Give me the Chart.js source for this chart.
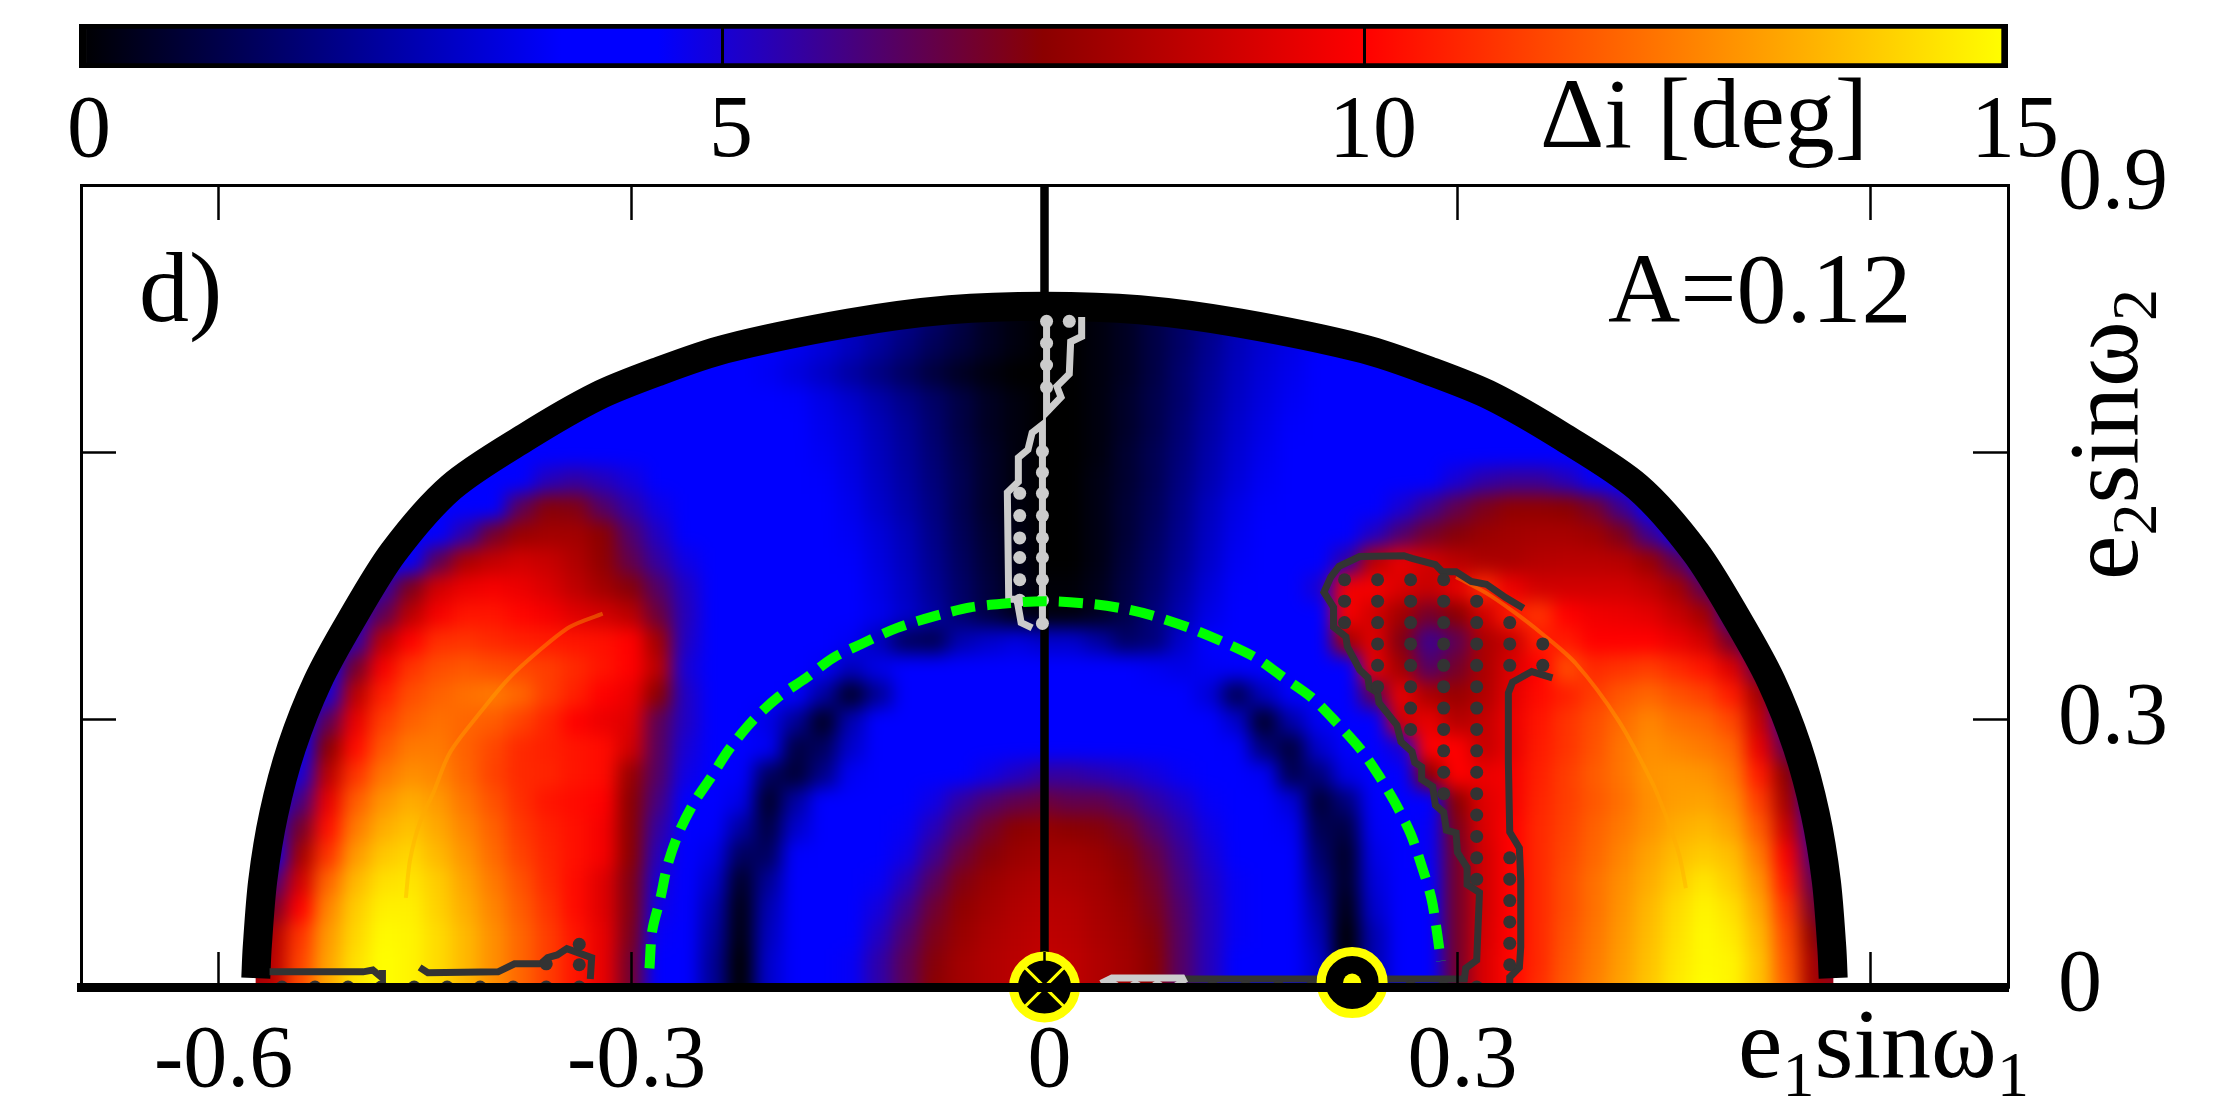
<!DOCTYPE html>
<html>
<head>
<meta charset="utf-8">
<script src="https://cdn.jsdelivr.net/npm/chart.js@4"></script>
<style>
  html, body { margin: 0; background: #fff; }
  #page { position: relative; width: 2222px; height: 1111px; overflow: hidden; }
  canvas { position: absolute; left: 0; top: 0; }
  .txt { position: absolute; font: 100px/1 "Liberation Serif", serif; color: #000; white-space: nowrap; }
  .txt sub { font-size: 0.64em; line-height: 0; vertical-align: -0.29em; }
</style>
</head>
<body>
<div id="page">
  <canvas id="barChart" width="2222" height="180"></canvas>
  <canvas id="mainChart" width="2222" height="1111"></canvas>
  <div class="txt" style="left:1540px;top:64px">Δi [deg]</div>
  <div class="txt" style="left:139px;top:238px">d)</div>
  <div class="txt" style="left:1608px;top:239px">A=0.12</div>
  <div class="txt" style="left:1738px;top:994px">e<sub>1</sub>sinω<sub>1</sub></div>
  <div class="txt" style="left:2054px;top:580px;transform-origin:0 0;transform:rotate(-90deg)">e<sub>2</sub>sinω<sub>2</sub></div>
</div>
<script>
// colour scale
const paletteValues = [0, 3.75, 4.5, 7.5, 10, 15];
const paletteColors = [[0, 0, 0], [0, 0, 255], [0, 0, 255], [139, 0, 0], [255, 0, 0], [255, 255, 0]];

const xTicks = [-0.6, -0.3, 0, 0.3, 0.6];
const xTickLabels = ["-0.6", "-0.3", "0", "0.3", ""];
const yTicks = [0, 0.3, 0.6, 0.9];
const yTickLabels = ["0", "0.3", "", "0.9"];
const barTicks = [0, 5, 10, 15];

// delta i, one row per e2 sin w2 value. heatLeft rows end at x = 0, heatRight rows start at x = 0.02, cells are 0.02 wide
const heatY = [0, 0.03, 0.06, 0.09, 0.12, 0.15, 0.18, 0.21, 0.24, 0.27, 0.30, 0.33, 0.36, 0.39, 0.42, 0.45, 0.48, 0.51, 0.54, 0.57, 0.60, 0.63, 0.66, 0.69, 0.72, 0.75];
const heatLeft = [
  [8,8.5,11.5,13.3,14.5,15,14.8,14.3,13.6,12.8,12,11.2,10.4,9.5,7,4.5,4,2.2,0,3,3.9,4.3,4.6,5.5,6.5,7.5,8,8.3,8.5,8.7],
  [7,8.5,11.3,13.2,14.4,15,14.8,14.3,13.6,12.8,12,11.2,10.4,9.5,7,4.5,4,2.2,0,3,3.9,4.3,4.6,5.5,6.5,7.4,8,8.3,8.5,8.7],
  [6,8.3,11,13,14.2,14.9,14.8,14.3,13.6,12.8,12,11.2,10.4,9.5,7.2,4.6,4,2.4,0.2,2.8,3.9,4.3,4.5,5.2,6.2,7.2,7.8,8.2,8.4,8.6],
  [7,10,12.6,14,14.7,14.7,14.1,13.4,12.6,11.8,11,10.2,9.3,7.3,4.8,4,2.6,0.3,2.6,3.9,4.2,4.4,4.9,5.8,6.9,7.6,8,8.3,8.5],
  [6,9,12,13.6,14.4,14.5,14,13.2,12.4,11.6,10.8,10.2,9.3,7.3,5,4.1,3,0.6,2.2,3.9,4.2,4.3,4.6,5.3,6.4,7.3,7.8,8.1,8.3],
  [4.5,8,11,13,13.9,14.2,13.6,12.9,12.1,11.3,10.7,10.3,9.8,7.5,5.3,4.2,3.4,1.4,1.4,3.7,4.2,4.2,4.4,4.8,5.8,6.8,7.4,7.8,8],
  [5,7,10.3,12.4,13.4,13.8,13.3,12.6,11.9,11.1,10.6,10.3,9.8,7.5,5.6,4.3,3.7,2.4,1,3,4.1,4.2,4.3,4.6,5.3,6.2,7,7.5,7.7],
  [4.5,6,9.5,11.8,12.9,13.4,13,12.3,11.6,10.9,10.4,10.2,10,7.5,6,4.4,3.9,3.4,0.6,2.4,4,4.2,4.2,4.4,4.8,5.6,6.2,6.6,6.8],
  [4,5,8.5,11,12.3,12.8,12.6,12,11.3,10.8,10.7,10.4,10.2,7.8,6.3,4.8,3.9,3.7,1.4,0.8,2,3.6,4.1,4.2,4.3,4.4,4.8,5.2,5.6],
  [4,7.5,10.2,11.7,12.4,12.4,11.9,11.4,10.8,10.6,10.4,10.2,9,6.4,5,4.1,3.8,3.6,1,1.4,3,4,4.2,4.2,4.2,4.3,4.3,4.4],
  [4,6.5,9.5,11.2,11.9,12.2,12,11.8,11.3,10.7,10,9.6,9.3,6.5,5.2,4.2,3.8,3.4,2.2,0.5,2.6,3.8,4.2,4.2,4.2,4.2,4.2,4.2],
  [4,5,8.5,10.6,11.5,11.9,12.2,12.4,12,11.2,10.6,10,9.6,7.5,5.2,4.3,3.9,3.9,3.7,2.4,0.6,2.2,3.8,4,4.1,4.1,4.1,4.1],
  [4,7,9.8,11,11.5,11.7,11.5,11.4,11.2,10.8,10.4,10,8.5,5,4.4,4,3.9,3.9,3.6,2.8,3.4,3.9,4,4.1,4,4,4],
  [4,5.5,8.5,10,10.9,11,10.8,10.6,10.5,10.4,10.3,10,8,5.2,4.4,4,3.9,3.9,3.9,3.6,2.8,1.4,1.2,2.6,3,3.3,3],
  [5,6.5,8.5,9.8,10.4,10.4,10.1,9.8,9.3,9,8.5,6.8,5.3,4.5,4,3.9,3.9,3.9,3.8,3.5,3,2.4,1.6,1,0.4,0.2],
  [4.5,5.5,7.2,9,9.6,9.8,9.6,9.2,8.6,8,7.4,6.3,5.2,4.4,4,3.9,3.9,3.9,3.8,3.4,2.9,2.2,1.5,0.9,0.4,0.1],
  [4,4.4,6.5,8.2,8.7,9,8.8,8.3,7.6,6.6,5.6,4.8,4.2,4,3.9,3.9,3.9,3.7,3.3,2.8,2.1,1.4,0.8,0.3,0],
  [4,4,4.2,5.5,7,7.8,8,8,7.5,6.2,5.2,4.5,4.1,4,3.9,3.9,3.9,3.6,3.2,2.7,2,1.3,0.7,0.3,0],
  [4,4,4,4.5,6.5,7.4,7.3,6.3,5.5,4.8,4.3,4,3.9,3.9,3.9,3.8,3.5,3,2.5,1.9,1.2,0.6,0.2,0],
  [4,4,4,4.2,5.3,5.6,5.3,4.9,4.5,4.2,4,3.9,3.9,3.8,3.7,3.4,2.9,2.4,1.8,1.2,0.6,0.2,0],
  [4,4,4,4.2,4.3,4.2,4.1,4,3.9,3.9,3.9,3.8,3.6,3.3,2.8,2.3,1.7,1.1,0.6,0.2,0],
  [4,4,4,4,4,4,4,3.9,3.9,3.9,3.8,3.5,3.2,2.7,2.2,1.6,1,0.5,0.2,0],
  [4,4,4,4,4,3.9,3.9,3.8,3.7,3.4,3,2.5,2,1.5,1,0.5,0.2,0],
  [4,4,3.9,3.9,3.8,3.6,3.3,2.9,2.4,1.9,1.4,0.9,0.5,0.2,0,0],
  [3.9,3.8,3.7,3.5,3.2,2.8,2.3,1.8,1.3,0.9,0.5,0.2,0],
  [2.5,2,1.5,1,0.5,0.2,0]
];
const heatRight = [
  [8.6,8.3,8,7.5,6.3,5.3,4.5,4.2,3.9,3,0,2.6,4,4.4,7,9.2,10.1,10.9,11.8,12.5,13.2,13.9,14.6,15,14.8,13.8,11.8,8,8],
  [8.6,8.3,8,7.5,6.3,5.3,4.5,4.2,3.9,3,0,2.6,4,4.5,7,9.2,10.1,10.8,11.7,12.4,13.1,13.8,14.5,14.9,14.8,13.8,11.6,8,6],
  [8.5,8.2,7.9,7.4,6.3,5.3,4.6,4.2,3.9,2.7,0,2.6,4,4.5,7,9.1,10,10.8,11.6,12.3,13,13.7,14.4,14.9,14.6,13.6,11.4,7.5,5],
  [8.4,8.1,7.8,7.2,6.2,5.3,4.6,4.2,3.9,2.4,0.3,3,4,4.5,7,9,10,10.8,11.5,12.2,12.9,13.6,14.3,14.8,14.4,13.3,11,7,5],
  [8.2,8,7.6,7,6,5.2,4.6,4.2,3.9,2,0.6,3.2,4,4.5,7,9,10,10.8,11.5,12.2,12.8,13.4,14,14.5,14,12.9,10.4,6.5,5],
  [8,7.8,7.4,6.7,5.8,5,4.5,4.2,3.8,1.6,0.6,3.4,4,4.6,7,9,10,10.8,11.4,12,12.6,13.2,13.7,14,13.7,12.4,9.8,6,4.5],
  [7.5,7.4,7,6.2,5.5,4.8,4.4,4.2,3.6,1.2,1,3.6,4,4.6,7.2,9.2,10,10.8,11.3,11.9,12.4,12.9,13.4,13.6,13.2,11.8,8.8,5.5,4.5],
  [6.6,6.6,6.2,5.6,5.1,4.6,4.3,4.1,3.2,0.8,1.8,3.7,4,4.5,7.5,9.3,9.8,10.7,11.2,11.7,12.2,12.8,13.1,13.2,12.8,11.2,8,5,4.5],
  [5.6,5.4,5.2,4.9,4.6,4.4,4.2,3.6,1.2,1.8,3.4,3.8,4.2,7.5,10,9.6,9.8,10.6,11.2,11.8,12.3,12.9,13,12.9,12.4,10.5,7.5,4.5,4],
  [4.4,4.4,4.3,4.2,4.2,4.1,3.7,1.8,0.9,3,3.7,3.9,5,10,10,8.8,9.5,10.5,11,11.6,12.3,12.8,12.6,12.4,12,9.5,6.5,4.5],
  [4.2,4.2,4.2,4.1,4.1,3.9,3,0.6,2.5,3.6,3.9,4.3,9,9.5,8.4,8.7,9.6,10.4,11,11.5,12.1,12.6,12.2,12,11.4,8.8,5.5,4],
  [4.1,4.1,4,4,3.9,3.2,1.2,2.8,3.7,3.9,4,6.5,9.5,8.2,7.8,8.3,9.4,10.2,10.6,11.2,11.7,12,11.6,11.3,10.5,8,5,4],
  [4,4,3.8,3.6,3.4,3.6,3.7,3.9,4,4,4.5,9.5,8,6.3,7,8.2,9.2,10,11.5,10.8,11,11.2,10.8,10.4,9.2,6.5,4],
  [3,2.4,1.5,1.8,3,3.8,3.9,3.9,4,4,8,9.3,7.3,5.8,6.5,8.2,8.8,10.5,10.5,10,10,10,9.6,9,7,5,4],
  [0.2,0.5,1.1,1.8,2.6,3.4,3.8,3.9,3.9,4.2,9.8,9,8,7,7.5,9,10.5,11,10,9.7,9.6,9.4,8.8,8,5.5,4],
  [0.1,0.4,1,1.6,2.4,3.2,3.7,3.9,3.9,5,9.7,9.8,9.2,8.8,9.5,10.8,9.6,9,9,9,9,8.7,8,6.5,4.5,4],
  [0,0.3,0.9,1.5,2.2,3,3.6,3.8,3.9,4.1,5.5,8.5,9.5,9,8.5,8.2,8.2,8.4,8.5,8.5,8.4,7.8,6.5,4.8,4],
  [0,0.3,0.8,1.4,2.1,2.9,3.5,3.8,3.9,4,4.4,5.2,6.2,7,7.4,7.8,8,8.1,8.1,7.9,7.2,5.8,4.4,4],
  [0,0.3,0.8,1.3,2,2.8,3.4,3.7,3.9,3.9,4,4.4,5,5.8,6.6,7.2,7.6,7.6,7.5,7,5.8,4.4,4],
  [0,0.3,0.7,1.2,1.9,2.6,3.2,3.6,3.8,3.9,3.9,4,4.2,4.5,5,5.5,5.7,5.7,5.3,4.6,4.1,4],
  [0,0.2,0.7,1.2,1.8,2.5,3.1,3.5,3.8,3.9,3.9,4,4,4.1,4.2,4.3,4.3,4.2,4.1,4,4],
  [0,0.2,0.6,1.1,1.7,2.4,3,3.4,3.7,3.9,3.9,4,4,4,4,4,4,4,4],
  [0,0.2,0.6,1.1,1.6,2.3,2.9,3.3,3.6,3.8,3.9,3.9,4,4,4,4,4],
  [0,0.2,0.5,1,1.6,2.2,2.8,3.2,3.5,3.8,3.9,3.9,3.9,4,4],
  [0,0.2,0.5,1,1.5,2.1,2.7,3.1,3.4,3.7,3.8,3.9],
  [0,0.2,0.5,1,1.5,2]
];

// thick black limit of the allowed region
const outerLimit = [[-0.573,0.010],[-0.572,0.044],[-0.568,0.119],[-0.560,0.194],[-0.547,0.269],[-0.528,0.343],[-0.504,0.411],[-0.473,0.488],[-0.431,0.561],[-0.377,0.617],[-0.325,0.663],[-0.282,0.690],[-0.232,0.716],[-0.142,0.745],[-0.069,0.760],[0,0.764],[0.069,0.760],[0.142,0.745],[0.232,0.716],[0.282,0.690],[0.325,0.663],[0.377,0.617],[0.431,0.561],[0.473,0.488],[0.504,0.411],[0.528,0.343],[0.547,0.269],[0.560,0.194],[0.568,0.119],[0.572,0.044],[0.573,0.010]];
// green dashed curve
const collisionLine = [[-0.287,0.021],[-0.285,0.063],[-0.279,0.100],[-0.274,0.136],[-0.266,0.172],[-0.255,0.206],[-0.242,0.236],[-0.229,0.267],[-0.212,0.299],[-0.193,0.326],[-0.173,0.347],[-0.154,0.369],[-0.133,0.385],[-0.107,0.403],[-0.078,0.417],[-0.054,0.426],[-0.031,0.430],[0,0.433],[0.033,0.430],[0.056,0.425],[0.078,0.417],[0.107,0.402],[0.133,0.385],[0.154,0.369],[0.174,0.347],[0.194,0.325],[0.212,0.297],[0.230,0.266],[0.243,0.237],[0.255,0.206],[0.266,0.172],[0.274,0.136],[0.281,0.100],[0.285,0.063],[0.288,0.029]];
const axisLine = [[0,0],[0,0.9]];

// dark grey stable-region contours
const darkContours = [
  [[0.348,0.425],[0.335,0.437],[0.321,0.452],[0.310,0.455],[0.299,0.466],[0.289,0.466],[0.284,0.474],[0.267,0.481],[0.261,0.484],[0.229,0.483],[0.214,0.472],[0.208,0.460],[0.203,0.443],[0.210,0.426],[0.210,0.404],[0.219,0.393],[0.220,0.382],[0.229,0.356],[0.235,0.347],[0.236,0.336],[0.242,0.330],[0.243,0.319],[0.256,0.294],[0.259,0.275],[0.267,0.264],[0.269,0.252],[0.274,0.247],[0.274,0.233],[0.282,0.225],[0.284,0.204],[0.290,0.196],[0.292,0.176],[0.299,0.173],[0.300,0.151],[0.307,0.134],[0.307,0.115],[0.316,0.106],[0.314,0.030],[0.306,0.021],[0.305,0.009],[0.100,0.009]],
  [[0.369,0.347],[0.354,0.354],[0.340,0.342],[0.337,0.330],[0.337,0.252],[0.338,0.174],[0.345,0.156],[0.346,0.120],[0.346,0.045],[0.345,0.022],[0.338,0.011],[0.338,0.004]],
  [[-0.563,0.017],[-0.495,0.017],[-0.488,0.019],[-0.481,0.010],[-0.481,0.019]],
  [[-0.454,0.022],[-0.448,0.016],[-0.397,0.017],[-0.385,0.026],[-0.366,0.026],[-0.361,0.033],[-0.354,0.036],[-0.347,0.043],[-0.329,0.033],[-0.330,0.009]]
];
const lightContours = [
  [[0.0015,0.747],[0.0015,0.645],[0.012,0.662],[0.009,0.674],[0.018,0.688],[0.019,0.724],[0.027,0.730],[0.027,0.752]],
  [[-0.009,0.403],[-0.017,0.409],[-0.020,0.435],[-0.026,0.435],[-0.027,0.555],[-0.019,0.567],[-0.019,0.594],[-0.012,0.603],[-0.009,0.622],[-0.0015,0.631],[-0.0015,0.403]],
  [[0.041,0.004],[0.049,0.010],[0.100,0.010],[0.102,0.004]]
];
const darkDots = [
  [0.218,0.457],[0.242,0.457],[0.266,0.457],[0.290,0.457],
  [0.218,0.433],[0.242,0.433],[0.266,0.433],[0.290,0.433],[0.314,0.433],
  [0.218,0.409],[0.242,0.409],[0.266,0.409],[0.290,0.409],[0.314,0.409],[0.338,0.409],
  [0.242,0.385],[0.266,0.385],[0.290,0.385],[0.314,0.385],[0.338,0.385],[0.362,0.385],
  [0.242,0.361],[0.266,0.361],[0.290,0.361],[0.314,0.361],[0.338,0.361],[0.362,0.361],
  [0.242,0.337],[0.266,0.337],[0.290,0.337],[0.314,0.337],
  [0.266,0.313],[0.290,0.313],[0.314,0.313],
  [0.266,0.289],[0.290,0.289],[0.314,0.289],
  [0.290,0.265],[0.314,0.265],[0.290,0.241],[0.314,0.241],[0.290,0.217],[0.314,0.217],
  [0.314,0.193],[0.314,0.169],[0.314,0.145],[0.314,0.121],
  [0.338,0.145],[0.338,0.121],[0.338,0.097],[0.338,0.073],[0.338,0.049],[0.338,0.025],
  [0.122,0],[0.146,0],[0.170,0],[0.194,0],[0.266,0],[0.290,0],[0.314,0],
  [-0.554,0],[-0.530,0],[-0.506,0],[-0.482,0],[-0.458,0],[-0.434,0],[-0.410,0],[-0.386,0],[-0.362,0],[-0.338,0],
  [-0.338,0.048],[-0.338,0.025],[-0.362,0.026]
];
const lightDots = [
  [0.0015,0.747],[0.0015,0.7225],[0.0015,0.698],[0.0015,0.673],[0.018,0.747],
  [-0.0015,0.601],[-0.0015,0.5775],[-0.0015,0.554],[-0.0015,0.529],[-0.0015,0.504],[-0.0015,0.482],[-0.0015,0.457],[-0.0015,0.434],[-0.0015,0.408],
  [-0.018,0.554],[-0.018,0.529],[-0.018,0.504],[-0.018,0.482],[-0.018,0.457],[-0.018,0.434],
  [0.050,0],[0.066,0],[0.082,0],[0.098,0]
];
// faint bright ridges inside the outer lobes
const ridgeLines = [
  [[-0.321,0.419],[-0.345,0.404],[-0.369,0.375],[-0.390,0.345],[-0.410,0.308],[-0.432,0.263],[-0.444,0.218],[-0.454,0.184],[-0.461,0.142],[-0.464,0.100]],
  [[0.299,0.460],[0.321,0.442],[0.340,0.422],[0.361,0.397],[0.386,0.363],[0.417,0.299],[0.441,0.231],[0.451,0.194],[0.461,0.149],[0.466,0.111]]
];
const markerCross = [[0, 0]];
const markerDot = [[0.2235, 0.005]];

const toXY = list => list.map(p => ({ x: p[0], y: p[1] }));

function paletteColor(v) {
  let i = 0;
  while (i < paletteValues.length - 2 && v > paletteValues[i + 1]) i++;
  const t = Math.min(1, Math.max(0, (v - paletteValues[i]) / (paletteValues[i + 1] - paletteValues[i])));
  const a = paletteColors[i], b = paletteColors[i + 1];
  return `rgb(${a[0] + (b[0] - a[0]) * t},${a[1] + (b[1] - a[1]) * t},${a[2] + (b[2] - a[2]) * t})`;
}

const heatCells = [];
heatY.forEach((y, k) => {
  const left = heatLeft[k];
  left.forEach((v, i) => heatCells.push({ x: -(left.length - 1 - i) * 0.02, y: y, v: v }));
  heatRight[k].forEach((v, i) => heatCells.push({ x: (i + 1) * 0.02, y: y, v: v }));
});

// the cells are drawn by the library as squares, this softens them and trims to the limit curve
const smoothHeat = {
  id: "smoothHeat",
  afterDatasetDraw(chart, args) {
    if (args.index !== 0) return;
    const ctx = chart.ctx, sx = chart.scales.x, sy = chart.scales.y;
    const tmp = document.createElement("canvas");
    tmp.width = chart.width;
    tmp.height = chart.height;
    tmp.getContext("2d").drawImage(chart.canvas, 0, 0);
    ctx.save();
    ctx.clearRect(0, 0, chart.width, chart.height);
    ctx.beginPath();
    outerLimit.forEach((p, i) => {
      const px = sx.getPixelForValue(p[0]), py = sy.getPixelForValue(p[1]);
      if (i === 0) ctx.moveTo(px, py); else ctx.lineTo(px, py);
    });
    ctx.lineTo(sx.getPixelForValue(0.573), sy.getPixelForValue(0));
    ctx.lineTo(sx.getPixelForValue(-0.573), sy.getPixelForValue(0));
    ctx.closePath();
    ctx.clip();
    ctx.drawImage(tmp, 0, 0);
    ctx.filter = "blur(9px)";
    ctx.drawImage(tmp, 0, 0);
    ctx.restore();
  }
};

const serif = { family: "'Liberation Serif', serif", size: 88 };
const tickGrid = { drawOnChartArea: false, drawTicks: true, tickLength: -35, tickWidth: 2.5, tickColor: "#000", z: 1 };

function lineSet(list, color, width, order, extra) {
  return Object.assign({
    data: toXY(list), showLine: true, borderColor: color, borderWidth: width,
    pointRadius: 0, order: order, tension: 0, fill: false
  }, extra || {});
}
function dotSet(list, color, radius, order) {
  return { data: toXY(list), showLine: false, pointRadius: radius, pointBackgroundColor: color, pointBorderWidth: 0, order: order };
}

const datasets = [
  {
    label: "delta i",
    data: heatCells,
    showLine: false,
    pointStyle: "rect",
    pointRadius: 21,
    pointBorderWidth: 0,
    pointBackgroundColor: c => paletteColor(c.raw.v),
    clip: false,
    order: 20
  },
  lineSet(outerLimit, "#000", 29, 9, { tension: 0.3 }),
  lineSet(axisLine, "#000", 8.5, 8),
  lineSet(ridgeLines[0], "rgba(255,170,0,0.4)", 4, 10, { tension: 0.3 }),
  lineSet(ridgeLines[1], "rgba(255,170,0,0.4)", 4, 10, { tension: 0.3 }),
  ...darkContours.map(c => lineSet(c, "#333", 7, 7)),
  ...lightContours.map(c => lineSet(c, "#ccc", 7, 6)),
  dotSet(darkDots, "#333", 6.5, 6),
  dotSet(lightDots, "#ccc", 6.5, 5),
  lineSet(collisionLine, "#00ff00", 10, 4, { tension: 0.3, borderDash: [24, 12] }),
  { data: toXY(markerCross.concat(markerDot)), showLine: false, pointRadius: 31, pointBackgroundColor: "#000", pointBorderColor: "#ffff00", pointBorderWidth: 9, order: 3, clip: false },
  { data: toXY(markerCross), showLine: false, pointStyle: "crossRot", pointRadius: 27, pointBorderColor: "#ffff00", pointBorderWidth: 3, order: 2, clip: false },
  Object.assign(dotSet(markerDot, "#ffff00", 9, 1), { clip: false })
];

new Chart(document.getElementById("mainChart"), {
  type: "scatter",
  data: { datasets: datasets },
  plugins: [smoothHeat],
  options: {
    responsive: false,
    animation: false,
    devicePixelRatio: 1,
    events: [],
    layout: { padding: { left: 81, top: 185, right: 0, bottom: 0 } },
    plugins: { legend: { display: false }, tooltip: { enabled: false } },
    scales: {
      x: {
        type: "linear", position: "bottom", min: -0.7, max: 0.7,
        afterBuildTicks: s => { s.ticks = xTicks.map(v => ({ value: v })); },
        afterFit: s => { s.height = 124; },
        grid: tickGrid,
        border: { color: "#000", width: 9, z: 1 },
        ticks: {
          font: serif, color: "#000", padding: 58, maxRotation: 0, autoSkip: false, labelOffset: 5, z: 1,
          callback: (v, i) => xTickLabels[i]
        }
      },
      y: {
        type: "linear", position: "right", min: 0, max: 0.9,
        afterBuildTicks: s => { s.ticks = yTicks.map(v => ({ value: v })); },
        // tick padding would otherwise be counted into the plot margins
        afterFit: s => { s.width = 214; s.paddingTop = 0; s.paddingBottom = 0; },
        grid: tickGrid,
        border: { color: "#000", width: 3, z: 1 },
        ticks: {
          font: serif, color: "#000", padding: 85, autoSkip: false, z: 1,
          callback: (v, i) => yTickLabels[i]
        }
      },
      x2: {
        type: "linear", position: "top", min: -0.7, max: 0.7,
        afterBuildTicks: s => { s.ticks = xTicks.map(v => ({ value: v })); },
        afterFit: s => { s.height = 0; },
        grid: tickGrid,
        border: { color: "#000", width: 3, z: 1 },
        ticks: { display: false }
      },
      y2: {
        type: "linear", position: "left", min: 0, max: 0.9,
        afterBuildTicks: s => { s.ticks = yTicks.map(v => ({ value: v })); },
        afterFit: s => { s.width = 0; },
        grid: tickGrid,
        border: { color: "#000", width: 3, z: 1 },
        ticks: { display: false }
      }
    }
  }
});

new Chart(document.getElementById("barChart"), {
  type: "bar",
  data: {
    labels: ["delta i"],
    datasets: [{
      data: [[0, 15]],
      borderColor: "#000",
      borderWidth: 5,
      borderSkipped: false,
      barPercentage: 1,
      categoryPercentage: 1,
      backgroundColor: c => {
        const area = c.chart.chartArea;
        if (!area) return "#000";
        const g = c.chart.ctx.createLinearGradient(area.left, 0, area.right, 0);
        paletteValues.forEach((v, i) => g.addColorStop(v / 15, `rgb(${paletteColors[i].join(",")})`));
        return g;
      }
    }]
  },
  options: {
    indexAxis: "y",
    responsive: false,
    animation: false,
    devicePixelRatio: 1,
    events: [],
    layout: { padding: { left: 80, top: 24, right: 216, bottom: 0 } },
    plugins: { legend: { display: false }, tooltip: { enabled: false } },
    scales: {
      x: {
        type: "linear", min: 0, max: 15,
        afterBuildTicks: s => { s.ticks = barTicks.map(v => ({ value: v })); },
        afterFit: s => { s.height = 112; },
        grid: { drawTicks: false, color: "#000", lineWidth: 3, z: 1 },
        border: { display: false },
        ticks: { font: serif, color: "#000", padding: 12, labelOffset: 9, maxRotation: 0, autoSkip: false }
      },
      y: { display: false }
    }
  }
});
</script>
</body>
</html>
